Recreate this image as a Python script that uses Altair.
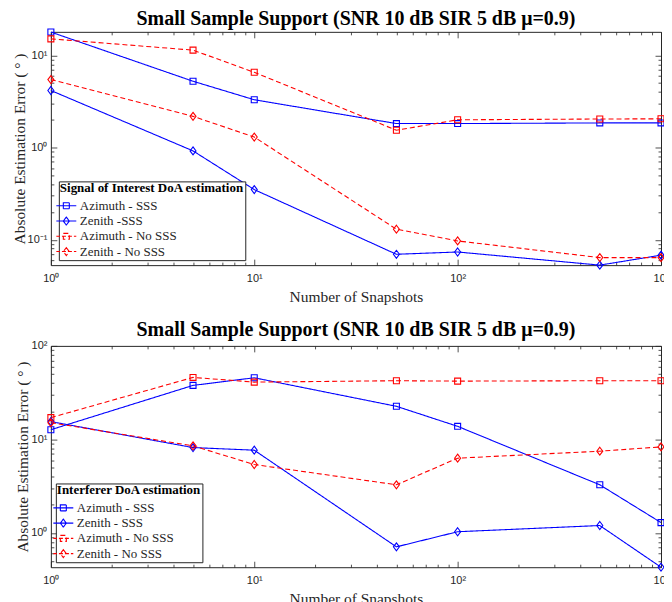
import altair as alt
import pandas as pd

# ---------------- data ----------------
snapshots = [1, 5, 10, 50, 100, 500, 1000]

# Signal of interest (top panel)
soi_az_sss = [17.9, 5.24, 3.30, 1.82, 1.82, 1.85, 1.85]
soi_zen_sss = [4.16, 0.92, 0.35, 0.0695, 0.0736, 0.053, 0.068]
soi_az_nosss = [15.1, 11.4, 6.55, 1.54, 2.00, 2.04, 2.05]
soi_zen_nosss = [5.46, 2.18, 1.30, 0.130, 0.097, 0.064, 0.064]

# Interferer (bottom panel)
int_az_sss = [12.7, 37.8, 45.6, 22.6, 13.8, 3.27, 1.29]
int_zen_sss = [15.5, 8.18, 7.67, 0.71, 1.03, 1.20, 0.43]
int_az_nosss = [17.1, 46.0, 41.0, 42.4, 42.0, 42.4, 42.4]
int_zen_nosss = [15.1, 8.53, 5.39, 3.27, 6.30, 7.48, 8.32]

series_top = ["Azimuth - SSS", "Zenith -SSS", "Azimuth - No SSS", "Zenith - No SSS"]
series_bot = ["Azimuth - SSS", "Zenith - SSS", "Azimuth - No SSS", "Zenith - No SSS"]
marker_kind = ["square", "diamond", "square", "diamond"]
colors = ["#0000FF", "#0000FF", "#FF0000", "#FF0000"]
dashes = [[1, 0], [1, 0], [5, 3], [5, 3]]

title_text = "Small Sample Support (SNR 10 dB SIR 5 dB \u03bc=0.9)"
x_title = "Number of Snapshots"
y_title = "Absolute Estimation Error ( \u00b0 )"

# marker / legend symbol paths
SQ = "M-0.75,-0.75H0.75V0.75H-0.75Z"
DI = "M0,-1L0.75,0L0,1L-0.75,0Z"
LINE_SOLID = "M-2.5,0H2.5"
LINE_DASH = "M-2.5,0H-1.6M-1.1,0H-0.1M0.4,0H1.4M1.9,0H2.5"
legend_paths = [LINE_SOLID + SQ, LINE_SOLID + DI, LINE_DASH + SQ, LINE_DASH + DI]


def make_df(series, cols):
    rows = []
    for s, m, vals in zip(series, marker_kind, cols):
        for n, v in zip(snapshots, vals):
            rows.append({"n": n, "err": v, "series": s, "marker": m})
    return pd.DataFrame(rows)


def decade_minors(lo, hi):
    out = []
    d = 0.01
    while d < 10000:
        for k in range(2, 10):
            v = round(k * d, 6)
            if lo <= v <= hi:
                out.append(v)
        d *= 10
    return out


LABEL_EXPR = (
    "'10' + (round(log(datum.value)/LN10) == -1 ? '\u207b\u00b9' : "
    "round(log(datum.value)/LN10) == 0 ? '\u2070' : "
    "round(log(datum.value)/LN10) == 1 ? '\u00b9' : "
    "round(log(datum.value)/LN10) == 2 ? '\u00b2' : '\u00b3')"
)


def axis(orient, values, size, labels=False, title=None, pad=0, tpad=4):
    kw = dict(
        orient=orient,
        values=values,
        tickSize={"expr": str(-size)},
        labels=labels,
        domain=False,
        grid=False,
        tickColor="#262626",
        tickWidth=0.8,
    )
    if labels:
        kw.update(labelExpr=LABEL_EXPR, labelPadding=pad, labelFlush=False, labelOverlap=False)
    if title is not None:
        kw.update(title=title, titlePadding=tpad)
    else:
        kw.update(title=None)
    return alt.Axis(**kw)


def panel(df, series, legend_title, ydom, ymaj, lx, ly, lab_off, h, title_offset):
    xs = alt.Scale(type="log", domain=[1, 1000], nice=False)
    ys = alt.Scale(type="log", domain=ydom, nice=False)
    cs = alt.Scale(domain=series, range=colors)
    xmaj = [1, 10, 100, 1000]
    xmin = decade_minors(1, 1000)
    ymin_ = decade_minors(ydom[0], ydom[1])

    leg = alt.Legend(
        title=legend_title,
        orient="none",
        legendX=lx,
        legendY=ly,
        direction="vertical",
        strokeColor="#262626",
        fillColor="white",
        padding=1,
        titleFont="Liberation Serif",
        titleFontSize=13,
        titleFontWeight="bold",
        titleColor="black",
        titlePadding=4,
        titleLimit=400,
        labelFont="Liberation Serif",
        labelFontSize=13,
        labelColor="#262626",
        labelLimit=400,
        symbolOffset=0,
        labelOffset=lab_off,
        rowPadding=1.3,
        symbolSize=64,
        symbolStrokeWidth=1.1,
        symbolOpacity=1,
        symbolFillColor="transparent",
    )
    color = alt.Color("series:N", scale=cs, legend=leg)

    base = alt.Chart(df)

    lines = base.mark_line(strokeWidth=1.1, clip=False).encode(
        x=alt.X("n:Q", scale=xs, axis=axis("bottom", xmaj, 6, True, x_title, 13, 6)),
        y=alt.Y("err:Q", scale=ys, axis=axis("left", ymaj, 6, True, y_title, 10, 0)),
        color=color,
        strokeDash=alt.StrokeDash("series:N", scale=alt.Scale(domain=series, range=dashes), legend=None),
    )
    squares = base.transform_filter(alt.datum.marker == "square").mark_point(
        shape=SQ, size=64, filled=False, strokeWidth=1.1, opacity=1, clip=False
    ).encode(
        x=alt.X("n:Q", scale=xs, axis=axis("top", xmaj, 6)),
        y=alt.Y("err:Q", scale=ys, axis=axis("right", ymaj, 6)),
        color=color,
    )
    diamonds = base.transform_filter(alt.datum.marker == "diamond").mark_point(
        shape=DI, size=64, filled=False, strokeWidth=1.1, opacity=1, clip=False
    ).encode(
        x=alt.X("n:Q", scale=xs, axis=axis("bottom", xmin, 3)),
        y=alt.Y("err:Q", scale=ys, axis=axis("left", ymin_, 3)),
        color=color,
    )
    legend_layer = base.mark_point(filled=False, opacity=0, size=64).encode(
        x=alt.X("n:Q", scale=xs, axis=axis("top", xmin, 3)),
        y=alt.Y("err:Q", scale=ys, axis=axis("right", ymin_, 3)),
        color=color,
        shape=alt.Shape("series:N", scale=alt.Scale(domain=series, range=legend_paths), legend=leg),
    )
    return (
        alt.layer(lines, squares, diamonds, legend_layer)
        .resolve_axis(x="independent", y="independent")
        .properties(
            width=612,
            height=h,
            title=alt.TitleParams(
                title_text,
                font="Liberation Serif",
                fontSize=20,
                fontWeight="bold",
                color="black",
                anchor="middle",
                offset=title_offset,
            ),
        )
    )


top = panel(
    make_df(series_top, [soi_az_sss, soi_zen_sss, soi_az_nosss, soi_zen_nosss]),
    series_top,
    "Signal of Interest DoA estimation",
    [0.053, 18.0],
    [0.1, 1, 10],
    8, 150, 7, 234, -2,
)
bottom = panel(
    make_df(series_bot, [int_az_sss, int_zen_sss, int_az_nosss, int_zen_nosss]),
    series_bot,
    "Interferer DoA estimation",
    [0.43, 100.0],
    [1, 10, 100],
    5, 138, 7, 222, 0,
)

chart = (
    alt.vconcat(top, bottom, spacing=14, padding={"left": 3, "top": -1, "right": -8, "bottom": 0})
    .resolve_scale(color="independent", shape="independent", strokeDash="independent")
    .resolve_legend(color="independent", shape="independent")
    .configure(background="white")
    .configure_view(stroke="#262626", strokeWidth=1)
    .configure_axis(
        labelFont="Liberation Sans",
        labelFontSize=11,
        labelColor="#262626",
        titleFont="Liberation Serif",
        titleFontSize=15.5,
        titleFontWeight="normal",
        titleColor="#262626",
    )
)

chart.save("out.html", embed_options={"renderer": "svg", "actions": False})
